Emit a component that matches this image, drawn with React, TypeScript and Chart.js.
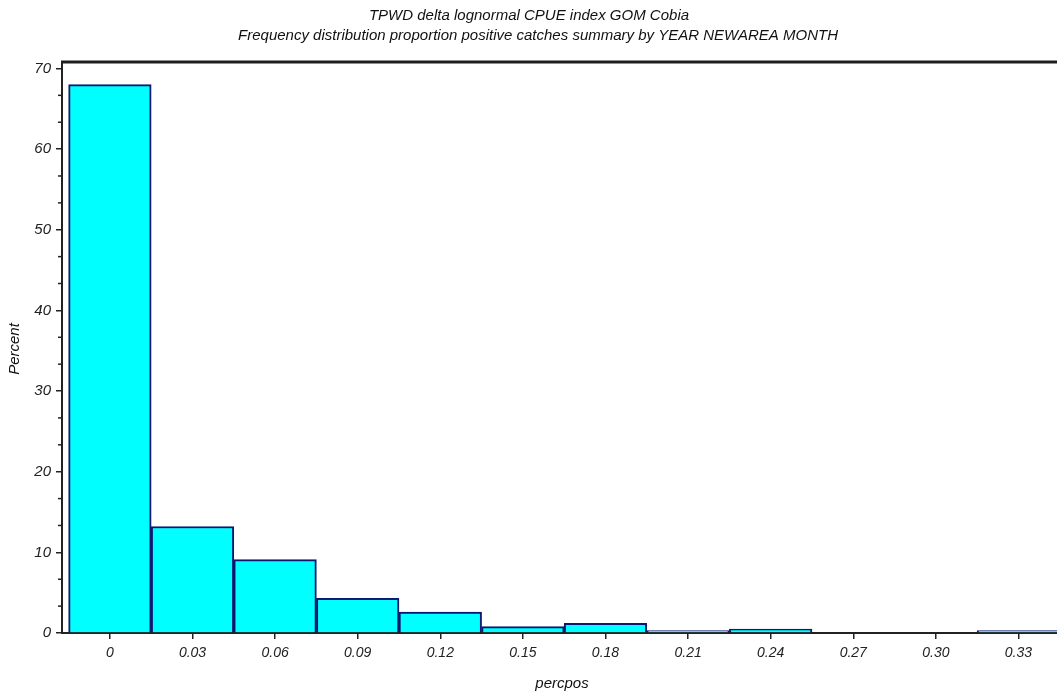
import React, { useEffect, useRef } from "react";
import { Chart, registerables } from "chart.js";

Chart.register(...registerables);

const binCenters = [0, 0.03, 0.06, 0.09, 0.12, 0.15, 0.18, 0.21, 0.24, 0.27, 0.3, 0.33];
const percentValues = [68.0, 13.2, 9.1, 4.3, 2.6, 0.8, 1.2, 0.3, 0.5, 0, 0, 0.3];
const xTickLabels = ["0", "0.03", "0.06", "0.09", "0.12", "0.15", "0.18", "0.21", "0.24", "0.27", "0.30", "0.33"];
const yTickValues = [0, 10, 20, 30, 40, 50, 60, 70];
const titleLines = [
  "TPWD delta lognormal CPUE index GOM Cobia",
  "Frequency distribution proportion positive catches summary by YEAR NEWAREA MONTH",
];
const xAxisTitle = "percpos";
const yAxisTitle = "Percent";

const FONT = "'Liberation Sans', Arial, sans-serif";

const decorPlugin = {
  id: "decor",
  afterDraw(chart: any) {
    const ctx = chart.ctx;
    const area = chart.chartArea;
    const ys = chart.scales.y;
    ctx.save();
    // top frame line
    ctx.strokeStyle = "#1e1e1e";
    ctx.lineWidth = 3;
    ctx.beginPath();
    ctx.moveTo(area.left - 1, area.top);
    ctx.lineTo(area.right, area.top);
    ctx.stroke();
    // minor ticks on y
    ctx.lineWidth = 1.5;
    ctx.strokeStyle = "#222";
    for (let i = 0; i <= 21; i++) {
      if (i % 3 === 0) continue;
      const v = (i * 10) / 3;
      const py = ys.getPixelForValue(v);
      ctx.beginPath();
      ctx.moveTo(area.left, py);
      ctx.lineTo(area.left - 4, py);
      ctx.stroke();
    }
    // titles
    ctx.fillStyle = "#111";
    ctx.textAlign = "center";
    ctx.textBaseline = "middle";
    ctx.font = `italic 15px ${FONT}`;
    ctx.fillText(titleLines[0], 529, 16);
    ctx.fillText(titleLines[1], 538, 36);
    // axis titles
    ctx.font = `italic 15px ${FONT}`;
    ctx.fillText(xAxisTitle, 562, 684);
    ctx.save();
    ctx.translate(15, 349);
    ctx.rotate(-Math.PI / 2);
    ctx.fillText(yAxisTitle, 0, 0);
    ctx.restore();
    ctx.restore();
  },
};

export default function App() {
  const ref = useRef<HTMLCanvasElement>(null);
  useEffect(() => {
    document.body.style.margin = "0";
    const canvas = ref.current!;
    const chart = new Chart(canvas, {
      type: "bar",
      data: {
        datasets: [
          {
            data: binCenters.map((x, i) => ({ x, y: percentValues[i] })),
            backgroundColor: "#00ffff",
            borderColor: "#0c1870",
            borderWidth: 2,
            barPercentage: 1,
            categoryPercentage: 1,
          },
        ],
      },
      options: {
        animation: false,
        responsive: false,
        maintainAspectRatio: false,
        layout: { padding: { top: 62, left: 0, right: 0, bottom: 0 } },
        plugins: {
          legend: { display: false },
          title: { display: false },
          tooltip: { enabled: false },
        },
        scales: {
          x: {
            type: "linear",
            offset: false,
            min: -0.0174,
            max: 0.344,
            afterBuildTicks: (scale: any) => {
              scale.ticks = binCenters.map((v) => ({ value: v }));
            },
            afterFit: (scale: any) => {
              scale.height = 63;
            },
            grid: {
              offset: false,
              drawOnChartArea: false,
              drawTicks: true,
              tickLength: 6,
              color: "#222",
              lineWidth: 1.5,
            },
            border: { display: true, color: "#222", width: 2 },
            ticks: {
              autoSkip: false,
              maxRotation: 0,
              padding: 6,
              color: "#222",
              font: { family: FONT, size: 14, style: "italic" },
              callback: (_v: any, i: number) => xTickLabels[i],
            },
          },
          y: {
            min: 0,
            max: 70.8,
            afterBuildTicks: (scale: any) => {
              scale.ticks = yTickValues.map((v) => ({ value: v }));
            },
            afterFit: (scale: any) => {
              scale.width = 62;
            },
            grid: {
              drawOnChartArea: false,
              drawTicks: true,
              tickLength: 6,
              color: "#222",
              lineWidth: 1.5,
            },
            border: { display: true, color: "#222", width: 2 },
            ticks: {
              padding: 5,
              color: "#222",
              font: { family: FONT, size: 15, style: "italic" },
              callback: (v: any) => String(v),
            },
          },
        },
      },
      plugins: [decorPlugin],
    });
    return () => chart.destroy();
  }, []);
  return (
    <div style={{ position: "fixed", left: 0, top: 0, width: 1057, height: 696, background: "#fff" }}>
      <canvas ref={ref} width={1057} height={696} style={{ width: 1057, height: 696 }} />
    </div>
  );
}
